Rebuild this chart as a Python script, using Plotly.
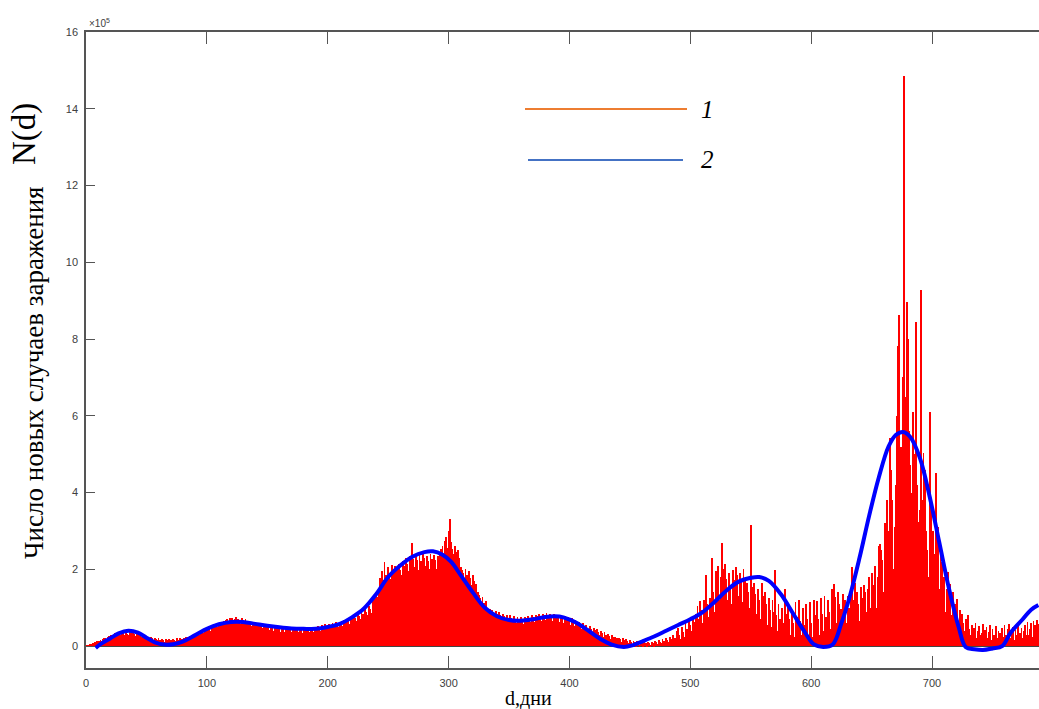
import plotly.graph_objects as go

# ---------------- DATA ----------------
# Daily new cases, thousands, day 1 .. 788
daily_k = [
    3, 2, 5, 4, 6, 8, 10, 12, 13, 11, 14, 16, 13, 18, 20, 22, 19, 24, 26, 21,
    28, 30, 24, 33, 31, 27, 35, 30, 25, 36, 34, 28, 37, 32, 29, 38, 33, 26, 35, 31,
    27, 34, 30, 24, 28, 25, 21, 27, 23, 19, 25, 22, 18, 24, 21, 16, 22, 19, 15, 20,
    17, 14, 19, 16, 12, 18, 15, 13, 19, 16, 12, 18, 17, 14, 20, 16, 15, 21, 18, 19,
    22, 18, 24, 25, 20, 27, 26, 22, 29, 31, 26, 33, 35, 29, 38, 40, 34, 42, 44, 37,
    45, 47, 40, 50, 53, 46, 55, 58, 50, 60, 62, 54, 64, 66, 58, 68, 70, 60, 72, 65,
    74, 62, 70, 76, 64, 71, 68, 58, 73, 66, 60, 70, 64, 55, 66, 60, 52, 63, 58, 50,
    60, 56, 48, 58, 54, 46, 57, 52, 44, 55, 50, 42, 54, 49, 40, 52, 47, 38, 51, 46,
    37, 50, 45, 36, 49, 44, 35, 48, 43, 36, 49, 44, 34, 48, 45, 36, 47, 43, 35, 48,
    44, 36, 49, 45, 37, 50, 46, 38, 51, 47, 39, 53, 48, 40, 55, 50, 42, 57, 52, 44,
    58, 54, 46, 60, 56, 47, 62, 58, 50, 64, 60, 52, 67, 63, 55, 71, 66, 58, 75, 70,
    62, 80, 74, 66, 85, 78, 70, 90, 84, 74, 96, 88, 80, 105, 96, 86, 120, 130, 112, 135,
    128, 150, 178, 160, 195, 172, 220, 185, 165, 205, 190, 175, 212, 196, 160, 208, 200, 178, 215, 198,
    185, 222, 210, 190, 230, 215, 195, 236, 220, 268, 228, 205, 240, 225, 198, 238, 222, 200, 242, 230,
    210, 235, 222, 200, 240, 228, 205, 238, 225, 202, 236, 228, 245, 252, 260, 235, 275, 285, 255, 300,
    330, 270, 252, 240, 262, 245, 225, 250, 230, 205, 198, 190, 175, 202, 185, 168, 195, 178, 160, 185,
    170, 150, 162, 140, 132, 125, 115, 128, 112, 105, 118, 100, 92, 98, 88, 95, 86, 80, 92, 84,
    76, 88, 80, 72, 85, 78, 68, 82, 74, 64, 80, 72, 62, 78, 70, 60, 76, 68, 58, 75,
    70, 58, 76, 72, 60, 78, 74, 62, 80, 76, 64, 82, 78, 65, 84, 79, 66, 85, 80, 67,
    86, 80, 68, 85, 79, 66, 84, 78, 65, 82, 76, 62, 80, 74, 60, 78, 70, 57, 75, 68,
    55, 72, 65, 52, 68, 60, 48, 64, 56, 45, 60, 52, 42, 56, 48, 38, 52, 45, 35, 48,
    42, 32, 45, 38, 28, 40, 34, 25, 36, 30, 22, 32, 26, 19, 28, 23, 16, 25, 20, 14,
    22, 18, 12, 20, 16, 10, 18, 14, 8, 16, 12, 6, 14, 10, 5, 13, 9, 4, 12, 8,
    4, 10, 7, 3, 11, 8, 4, 12, 9, 5, 14, 10, 6, 15, 11, 7, 18, 13, 8, 20,
    15, 10, 24, 18, 12, 30, 22, 14, 40, 46, 28, 18, 50, 38, 25, 60, 45, 32, 70, 55,
    40, 78, 62, 48, 85, 105, 70, 118, 95, 60, 120, 100, 185, 110, 75, 125, 108, 229, 140, 90,
    195, 150, 210, 120, 180, 268, 200, 140, 215, 175, 120, 190, 160, 110, 198, 172, 125, 205, 185, 130,
    190, 168, 115, 200, 175, 110, 165, 140, 100, 316, 155, 95, 165, 135, 85, 150, 120, 70, 165, 130,
    60, 140, 110, 55, 125, 95, 50, 120, 90, 198, 80, 40, 110, 70, 35, 100, 60, 150, 85, 45,
    105, 70, 30, 95, 60, 25, 115, 75, 35, 120, 65, 28, 100, 55, 22, 110, 70, 30, 115, 60,
    25, 120, 80, 35, 118, 70, 28, 125, 85, 40, 130, 75, 30, 120, 90, 45, 150, 100, 163, 128,
    60, 140, 110, 50, 98, 137, 75, 120, 60, 130, 100, 55, 145, 207, 120, 165, 80, 140, 110, 65,
    155, 125, 70, 160, 140, 90, 150, 180, 100, 190, 160, 120, 210, 100, 180, 260, 267, 250, 224, 140,
    320, 210, 380, 300, 543, 458, 380, 200, 310, 420, 600, 781, 862, 520, 254, 700, 1485, 650, 896, 800,
    560, 471, 398, 610, 500, 300, 844, 420, 324, 354, 927, 380, 502, 460, 300, 250, 180, 610, 380, 240,
    300, 241, 450, 200, 310, 150, 267, 220, 120, 180, 90, 150, 194, 110, 163, 80, 140, 70, 110, 60,
    124, 50, 95, 40, 85, 60, 40, 70, 30, 81, 45, 30, 55, 25, 48, 60, 20, 40, 52, 28,
    35, 58, 18, 42, 50, 22, 38, 55, 15, 45, 30, 25, 52, 20, 40, 35, 18, 48, 25, 55,
    30, 20, 45, 58, 22, 38, 50, 15, 42, 30, 60, 25, 35, 48, 20, 40, 55, 28, 62, 30,
    45, 60, 25, 65, 55, 35, 68, 58,
]
days = list(range(1, len(daily_k) + 1))
cases_1e5 = [v / 100.0 for v in daily_k]

# Smoothed curve (curve 2), x10^5
smooth_day = [8, 12, 20, 27, 35, 43, 50, 57, 65, 72, 80, 90, 100, 110, 120, 130, 140, 150,
              160, 170, 180, 190, 200, 210, 220, 230, 240, 250, 260, 270, 280, 287, 295,
              302, 310, 320, 330, 340, 350, 360, 370, 380, 388, 395, 405, 415, 425, 435,
              445, 452, 460, 470, 480, 490, 500, 510, 520, 530, 540, 550, 557, 565, 575,
              585, 595, 602, 610, 618, 625, 632, 640, 648, 656, 664, 670, 676, 682, 690,
              698, 706, 714, 722, 728, 735, 742, 750, 758, 765, 775, 782, 788]
smooth_val = [-0.05, 0.05, 0.2, 0.33, 0.4, 0.35, 0.22, 0.1, 0.04, 0.05, 0.12, 0.28, 0.45,
              0.57, 0.63, 0.63, 0.58, 0.53, 0.49, 0.46, 0.45, 0.45, 0.5, 0.58, 0.75, 0.98,
              1.35, 1.8, 2.1, 2.33, 2.45, 2.47, 2.38, 2.2, 1.85, 1.4, 1.0, 0.78, 0.68, 0.66,
              0.7, 0.76, 0.78, 0.75, 0.62, 0.42, 0.2, 0.04, -0.02, 0.02, 0.12, 0.25, 0.4,
              0.55, 0.7, 0.88, 1.15, 1.45, 1.68, 1.78, 1.8, 1.7, 1.35, 0.85, 0.35, 0.05,
              -0.02, 0.05, 0.6, 1.3, 2.3, 3.4, 4.4, 5.2, 5.5, 5.58, 5.45, 4.9, 3.9, 2.7,
              1.5, 0.5, -0.03, -0.08, -0.1, -0.06, 0.0, 0.35, 0.7, 0.95, 1.07]

x_ticks = [0, 100, 200, 300, 400, 500, 600, 700]
y_ticks = [0, 2, 4, 6, 8, 10, 12, 14, 16]

legend_labels = ["1", "2"]
legend_colors = ["#ED7D31", "#4472C4"]

# ---------------- LAYOUT HELPERS ----------------
W, H = 1039, 709
L, R, T, B = 86, 1039, 32, 668


def px(xp):
    return (xp - L) / (R - L)


def py(yp):
    return (B - yp) / (B - T)


fig = go.Figure()
fig.add_trace(go.Bar(x=days, y=cases_1e5, width=0.7, marker=dict(color="#FF0000", line=dict(width=0)),
                     showlegend=False))
fig.add_trace(go.Scatter(x=smooth_day, y=smooth_val, mode="lines",
                         line=dict(color="#0000FF", width=4, shape="spline", smoothing=1.0),
                         showlegend=False))

axis_font = dict(family="Liberation Sans, Arial", size=11, color="#404040")
fig.update_xaxes(range=[0, 788.5], tickvals=x_ticks, ticktext=[str(t) for t in x_ticks],
                 ticks="inside", ticklen=12, tickcolor="#555", tickwidth=1.2,
                 showline=True, linecolor="#555", linewidth=1.5, mirror="ticks",
                 showgrid=False, zeroline=False, tickfont=axis_font, ticklabelstandoff=4)
fig.update_yaxes(range=[-0.57, 16], tickvals=y_ticks, ticktext=[str(t) for t in y_ticks],
                 ticks="inside", ticklen=9, tickcolor="#555", tickwidth=1.2,
                 showline=True, linecolor="#555", linewidth=1.5, mirror=False,
                 showgrid=False, zeroline=True, zerolinecolor="#444", zerolinewidth=1.5,
                 tickfont=axis_font, ticklabelstandoff=4)

shapes = []
annotations = []
# legend
leg_rows = [(525, 687, 109), (528, 683, 160)]
for (x0, x1, yy), col, lab in zip(leg_rows, legend_colors, legend_labels):
    shapes.append(dict(type="line", xref="paper", yref="paper", x0=px(x0), x1=px(x1),
                       y0=py(yy), y1=py(yy), line=dict(color=col, width=2)))
    annotations.append(dict(xref="paper", yref="paper", x=px(707), y=py(yy), text=lab,
                            showarrow=False, xanchor="center", yanchor="middle",
                            font=dict(family="Liberation Serif, Times New Roman", size=25,
                                      color="black", style="italic")))

annotations.append(dict(xref="paper", yref="paper", x=px(87), y=py(23),
                        text="×10<sup>5</sup>", showarrow=False, xanchor="left", yanchor="middle",
                        font=dict(family="Liberation Sans, Arial", size=10, color="#404040")))
annotations.append(dict(xref="paper", yref="paper", x=px(528), y=py(698), text="d,дни",
                        showarrow=False, xanchor="center", yanchor="middle",
                        font=dict(family="Liberation Serif, Times New Roman", size=20, color="black")))
annotations.append(dict(xref="paper", yref="paper", x=px(34), y=py(373),
                        text="Число новых случаев заражения", textangle=-90,
                        showarrow=False, xanchor="center", yanchor="middle",
                        font=dict(family="Liberation Serif, Times New Roman", size=27, color="black")))
annotations.append(dict(xref="paper", yref="paper", x=px(25), y=py(134), text="N(d)", textangle=-90,
                        showarrow=False, xanchor="center", yanchor="middle",
                        font=dict(family="Liberation Serif, Times New Roman", size=33, color="black")))

fig.update_layout(width=W, height=H, margin=dict(l=L, r=W - R, t=T, b=H - B),
                  plot_bgcolor="white", paper_bgcolor="white", bargap=0,
                  shapes=shapes, annotations=annotations, showlegend=False)

fig.write_html("out.html", config={"displayModeBar": False})

# remove the browser's default page margin so the figure sits at (0, 0)
with open("out.html", encoding="utf-8") as f:
    html = f.read()
html = html.replace("<head>", "<head><style>html,body{margin:0;padding:0;overflow:hidden;}</style>", 1)
with open("out.html", "w", encoding="utf-8") as f:
    f.write(html)
